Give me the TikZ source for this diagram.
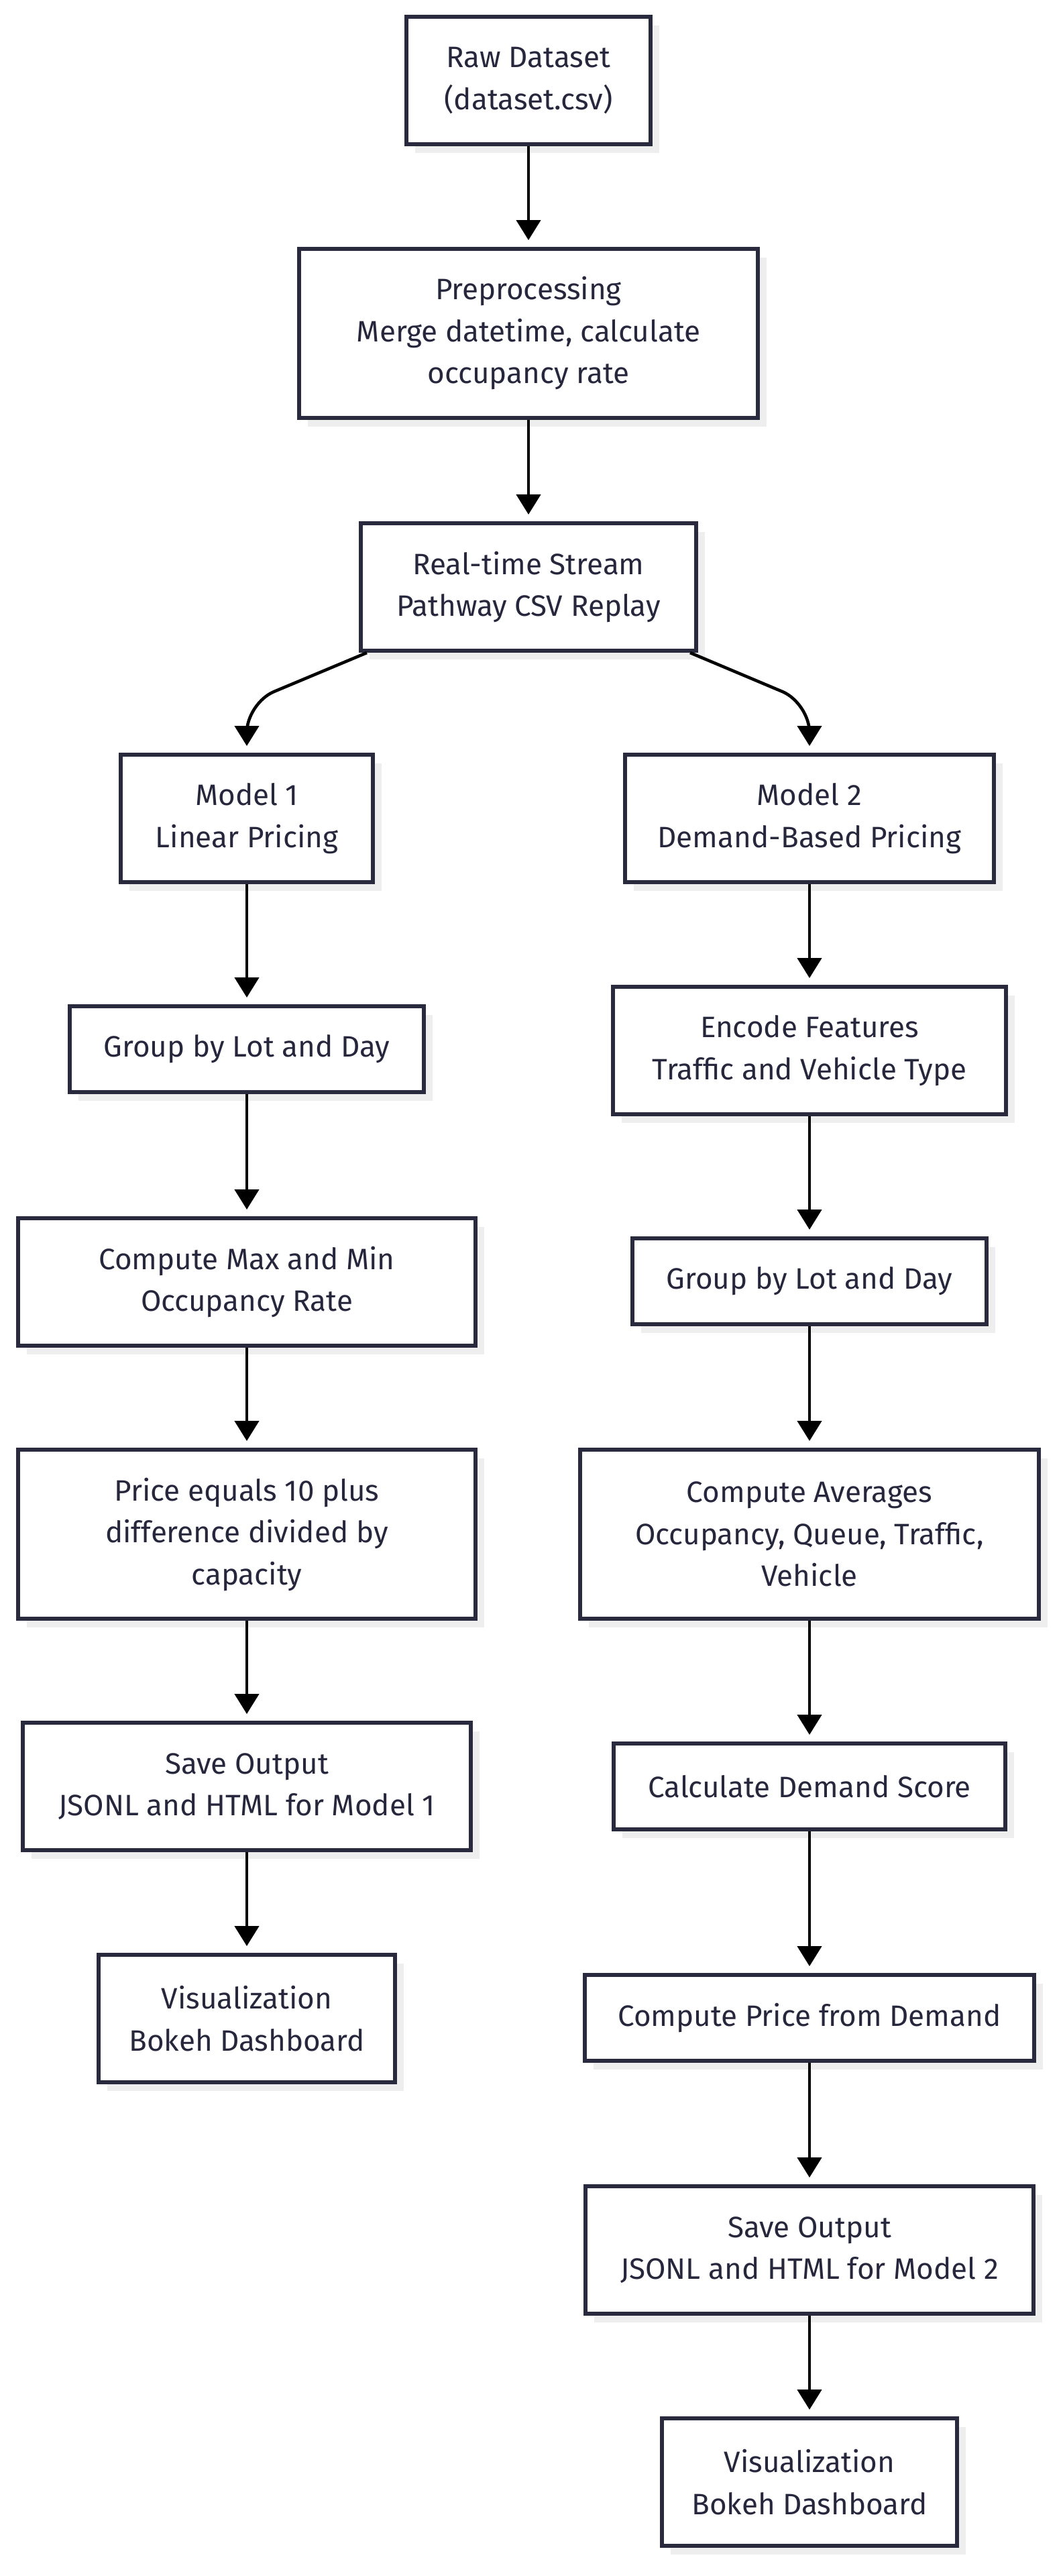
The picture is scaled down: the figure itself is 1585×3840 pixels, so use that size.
\documentclass[tikz,border=0pt]{standalone}
\usepackage{fontspec}
\setmainfont{Fira Sans}
\usetikzlibrary{arrows.meta,shadows}
\definecolor{boxline}{RGB}{42,42,62}
\definecolor{boxtext}{RGB}{38,38,60}
\definecolor{shadowgray}{RGB}{238,238,238}
\tikzset{
  flowbox/.style={draw=boxline, line width=3pt, fill=white, text=boxtext,
    align=center, inner sep=0pt, minimum height=95pt,
    font=\fontsize{22pt}{31.25pt}\selectfont,
    drop shadow={shadow xshift=6.5pt, shadow yshift=-6.5pt, fill=shadowgray, opacity=1}},
  tall/.style={minimum height=126pt},
  low/.style={minimum height=64pt},
  arr/.style={draw=black, line width=2.3pt, shorten >=5pt,
    -{Triangle[length=15pt,width=18pt]}}
}
\begin{document}
\begin{tikzpicture}[x=0.5pt,y=-0.5pt]
\useasboundingbox (0,0) rectangle (1585,3840);
\node[flowbox, minimum width=182pt] (raw) at (788,120) {Raw Dataset\\(dataset.csv)};
\node[flowbox, tall, minimum width=342pt] (pre) at (788,497) {Preprocessing\\Merge datetime, calculate\\occupancy rate};
\node[flowbox, minimum width=250pt] (rt) at (788,875) {Real-time Stream\\Pathway CSV Replay};
\node[flowbox, minimum width=188pt] (m1) at (368,1220) {Model 1\\Linear Pricing};
\node[flowbox, minimum width=275pt] (m2) at (1207,1220) {Model 2\\Demand-Based Pricing};
\node[flowbox, low, minimum width=264pt] (gl) at (368,1564) {Group by Lot and Day};
\node[flowbox, minimum width=293pt] (enc) at (1207,1566) {Encode Features\\Traffic and Vehicle Type};
\node[flowbox, minimum width=341pt] (cmx) at (368,1911) {Compute Max and Min\\Occupancy Rate};
\node[flowbox, low, minimum width=264pt] (gr) at (1207,1910) {Group by Lot and Day};
\node[flowbox, tall, minimum width=341pt] (pr) at (368,2287) {Price equals 10 plus\\difference divided by\\capacity};
\node[flowbox, tall, minimum width=342pt] (avg) at (1207,2287) {Compute Averages\\Occupancy, Queue, Traffic,\\Vehicle};
\node[flowbox, minimum width=334pt] (s1) at (368,2663) {Save Output\\JSONL and HTML for Model 1};
\node[flowbox, low, minimum width=292pt] (dem) at (1207,2663) {Calculate Demand Score};
\node[flowbox, minimum width=221pt] (v1) at (368,3009) {Visualization\\Bokeh Dashboard};
\node[flowbox, low, minimum width=335pt] (cp) at (1207,3008) {Compute Price from Demand};
\node[flowbox, minimum width=334pt] (s2) at (1207,3354) {Save Output\\JSONL and HTML for Model 2};
\node[flowbox, minimum width=220pt] (v2) at (1207,3700) {Visualization\\Bokeh Dashboard};

\coordinate (bl) at (368,1048);
\coordinate (br) at (1207,1048);
\draw[arr] (raw) -- (pre);
\draw[arr] (pre) -- (rt);
\draw[arr, rounded corners=22pt] ([xshift=6pt]rt.south west) -- (bl) -- (m1.north);
\draw[arr, rounded corners=22pt] ([xshift=-6pt]rt.south east) -- (br) -- (m2.north);
\draw[arr] (m1) -- (gl);
\draw[arr] (gl) -- (cmx);
\draw[arr] (cmx) -- (pr);
\draw[arr] (pr) -- (s1);
\draw[arr] (s1) -- (v1);
\draw[arr] (m2) -- (enc);
\draw[arr] (enc) -- (gr);
\draw[arr] (gr) -- (avg);
\draw[arr] (avg) -- (dem);
\draw[arr] (dem) -- (cp);
\draw[arr] (cp) -- (s2);
\draw[arr] (s2) -- (v2);
\end{tikzpicture}
\end{document}
